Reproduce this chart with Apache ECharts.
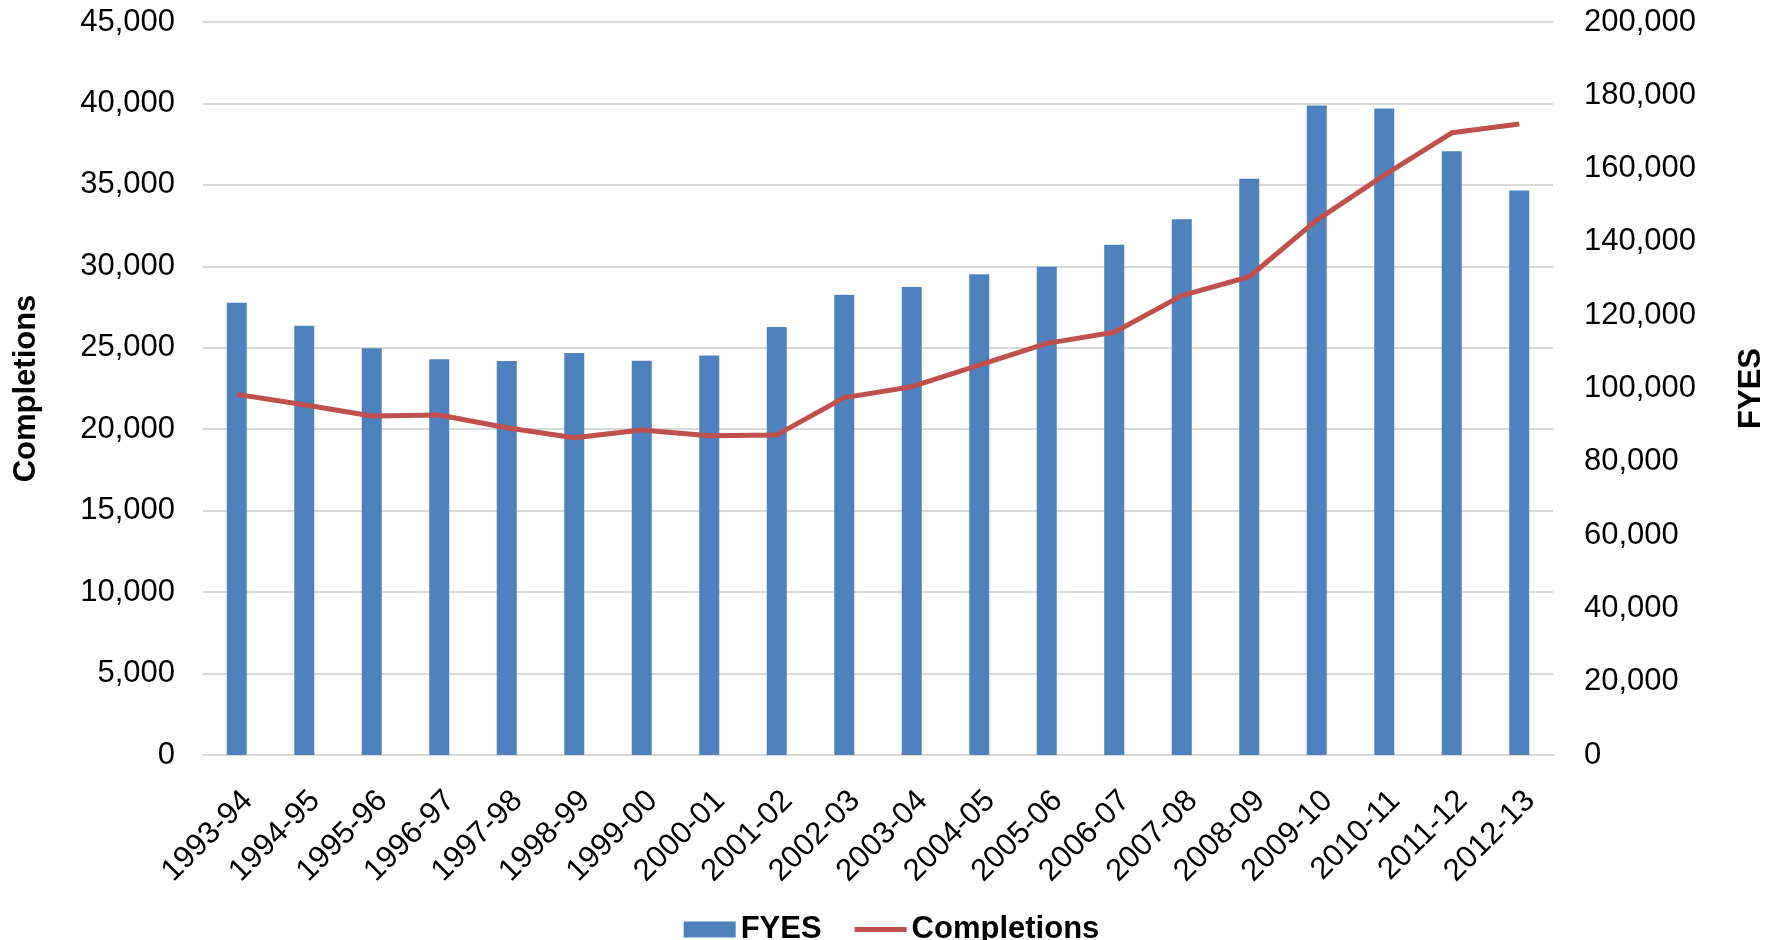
<!DOCTYPE html>
<html>
<head>
<meta charset="utf-8">
<title>FYES and Completions</title>
<script src="https://cdn.jsdelivr.net/npm/echarts@6/dist/echarts.min.js"></script>
<style>
  html, body { margin: 0; padding: 0; background: #fff; }
  #chart { width: 1783px; height: 940px; }
</style>
</head>
<body>
<div id="chart"></div>
<script>
  // categories: academic years
  var years = ['1993-94', '1994-95', '1995-96', '1996-97', '1997-98', '1998-99', '1999-00',
    '2000-01', '2001-02', '2002-03', '2003-04', '2004-05', '2005-06', '2006-07',
    '2007-08', '2008-09', '2009-10', '2010-11', '2011-12', '2012-13'];

  // FYES (bars, right axis)
  var fyes = [123400, 117100, 111000, 108000, 107500, 109700, 107600, 109000, 116800, 125600,
    127700, 131200, 133200, 139200, 146200, 157200, 177200, 176400, 164700, 154000];

  // Completions (line, left axis)
  var completions = [22140, 21500, 20810, 20870, 20090, 19480, 19950, 19600, 19650, 21940,
    22610, 23940, 25270, 25950, 28200, 29360, 32840, 35600, 38200, 38740];

  var fontFamily = '"Liberation Sans", Arial, sans-serif';

  function fmt(v) {
    return Number(v).toLocaleString('en-US');
  }

  var chart = echarts.init(document.getElementById('chart'));
  chart.setOption({
    animation: false,
    textStyle: { fontFamily: fontFamily, color: '#000' },
    grid: { left: 203, right: 230, top: 22, bottom: 185, containLabel: false },
    legend: {
      top: 909,
      left: 'center',
      itemWidth: 52,
      itemHeight: 16,
      itemGap: 33,
      symbolKeepAspect: true,
      textStyle: { fontSize: 31, fontWeight: 'bold', color: '#000', fontFamily: fontFamily },
      data: [
        { name: 'FYES', icon: 'rect' },
        // plain thick line, no marker, like the reference legend
        { name: 'Completions', icon: 'path://M0,0 L54,0 L54,5 L0,5 Z' }
      ]
    },
    xAxis: {
      type: 'category',
      data: years,
      axisLine: { lineStyle: { color: '#d9d9d9', width: 2 } },
      axisTick: { show: false },
      axisLabel: {
        rotate: 45,
        margin: 30,
        verticalAlign: 'top',
        fontSize: 31,
        color: '#000',
        fontFamily: fontFamily,
        interval: 0
      }
    },
    yAxis: [
      {
        type: 'value',
        name: 'Completions',
        nameLocation: 'middle',
        nameGap: 161,
        nameTextStyle: { fontSize: 31, fontWeight: 'bold', color: '#000', fontFamily: fontFamily },
        min: 0,
        max: 45000,
        interval: 5000,
        axisLine: { show: false },
        axisTick: { show: false },
        axisLabel: { fontSize: 31, margin: 28, color: '#000', formatter: fmt },
        splitLine: { lineStyle: { color: '#d9d9d9', width: 2 } }
      },
      {
        type: 'value',
        name: 'FYES',
        nameLocation: 'middle',
        nameGap: 183,
        nameTextStyle: { fontSize: 31, fontWeight: 'bold', color: '#000', fontFamily: fontFamily },
        min: 0,
        max: 200000,
        interval: 20000,
        axisLine: { show: false },
        axisTick: { show: false },
        axisLabel: { fontSize: 31, margin: 31, color: '#000', formatter: fmt },
        splitLine: { show: false }
      }
    ],
    series: [
      {
        name: 'FYES',
        type: 'bar',
        yAxisIndex: 1,
        barWidth: 20,
        itemStyle: { color: '#4F81BD' },
        data: fyes
      },
      {
        name: 'Completions',
        type: 'line',
        yAxisIndex: 0,
        symbol: 'none',
        lineStyle: { color: '#C0504D', width: 5 },
        itemStyle: { color: '#C0504D' },
        data: completions
      }
    ]
  });
</script>
</body>
</html>
